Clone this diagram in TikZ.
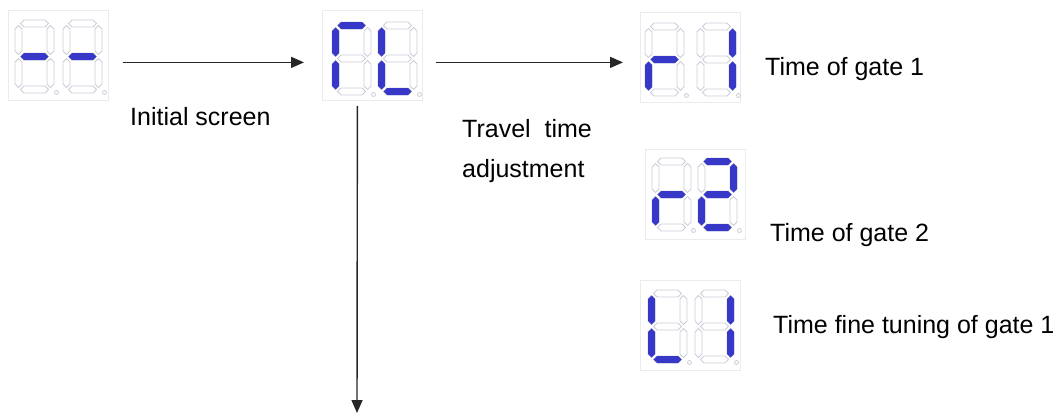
\documentclass[tikz,border=0pt]{standalone}
\usepackage{fontspec}
\setmainfont{Liberation Sans}
\usetikzlibrary{arrows.meta}
\definecolor{segblue}{RGB}{55,55,200}
\definecolor{segpale}{RGB}{205,205,218}
\tikzset{
  hseg/.style={insert path={(#1) ++(2,0) -- ++(3.5,-3.5) -- ++(21,0) -- ++(3.5,3.5) -- ++(-3.5,3.5) -- ++(-21,0) -- cycle}},
  vseg/.style={insert path={(#1) ++(0,2) -- ++(3.5,3.5) -- ++(0,22) -- ++(-3.5,3.5) -- ++(-3.5,-3.5) -- ++(0,-22) -- cycle}},
  seg a/.style={hseg={0,0}},
  seg g/.style={hseg={0,33}},
  seg d/.style={hseg={0,66}},
  seg f/.style={vseg={0,0}},
  seg e/.style={vseg={0,33}},
  seg b/.style={vseg={32,0}},
  seg c/.style={vseg={32,33}},
  segoff/.style={draw=segpale,line width=0.8pt,fill=white},
  segon/.style={fill=segblue},
  panel/.style={draw=black!8,line width=0.8pt,minimum width=100pt,minimum height=90pt,inner sep=0pt,anchor=north west},
  flow/.style={draw=black!85,line width=1.4pt,-{Triangle[length=13pt,width=11pt]}},
  lbl/.style={inner sep=0pt,anchor=base west,font=\fontsize{25}{40}\selectfont}
}
\newcommand{\segdigit}[3]{%
  \begin{scope}[shift={(#1,#2)}]
    \foreach \s in {a,b,c,d,e,f,g} \path[segoff, seg \s];
    \foreach \s in {#3} \fill[segon, seg \s];
    \draw[segoff] (38,69) circle (2);
  \end{scope}}

\begin{document}
\begin{tikzpicture}[x=1pt,y=-1pt]
\useasboundingbox (0,0) rectangle (1059,418);

% display panels
\node[panel] (scr1) at (8,10) {};
\node[panel] (scr2) at (322,10) {};
\node[panel] (scr3) at (640,12) {};
\node[panel] (scr4) at (645,149) {};
\node[panel] (scr5) at (640,280) {};

% digits
\segdigit{18.5}{23.5}{g}
\segdigit{66.5}{23.5}{g}
\segdigit{335.5}{25.5}{a,f,e}
\segdigit{381.5}{25.5}{f,e,d}
\segdigit{648.5}{26.5}{e,g}
\segdigit{700.5}{26.5}{b,c}
\segdigit{655.5}{161.5}{e,g}
\segdigit{701.5}{161.5}{a,b,g,e,d}
\segdigit{651.5}{293.5}{f,e,d}
\segdigit{698.5}{293.5}{b,c}

% labels
\node[lbl] (lblinit) at (130,125) {Initial screen};
\node[lbl,align=left] (lbltravel) at (462,177) {Travel\ \ time\\adjustment};
\node[lbl] (lblgate1) at (765,75) {Time of gate 1};
\node[lbl] (lblgate2) at (770,241) {Time of gate 2};
\node[lbl] (lbltune) at (773,333) {Time fine tuning of gate 1};

% arrows
\coordinate (down) at (357,413);
\draw[flow,shorten <=14pt,shorten >=18pt] ([yshift=-7pt]scr1.east) -- ([yshift=-7pt]scr2.west);
\draw[flow,shorten <=13pt,shorten >=17pt] ([yshift=-7pt]scr2.east) -- ([yshift=-5pt]scr3.west);
\draw[flow,shorten <=5pt] ([xshift=-15pt]scr2.south) -- (down);
\end{tikzpicture}
\end{document}
